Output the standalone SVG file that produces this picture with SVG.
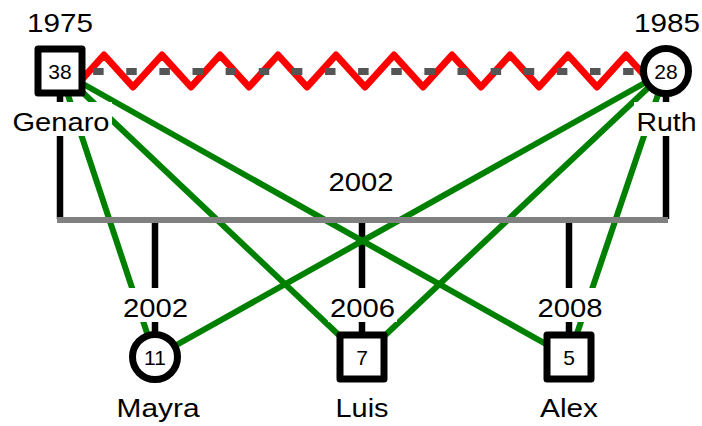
<svg xmlns="http://www.w3.org/2000/svg" width="702" height="426" viewBox="0 0 702 426">
<style>
.bg{fill:#fff}
.node{fill:#fff;stroke:#000;stroke-width:7;stroke-linejoin:round}
.lbl{font-family:"Liberation Sans",Arial,sans-serif;font-size:25px;fill:#000;text-anchor:middle}
.num{font-family:"Liberation Sans",Arial,sans-serif;font-size:21px;fill:#000;text-anchor:middle}
.blk{stroke:#000;stroke-width:6.5;fill:none}
.grn{stroke:#008000;stroke-width:6;fill:none}
</style>
<rect width="702" height="426" fill="#fff"/>
<g id="connectors">
  <g id="descent">
    <line class="blk" x1="60" y1="96" x2="60" y2="219"/>
    <line class="blk" x1="666" y1="96" x2="666" y2="219"/>
    <line class="blk" x1="155" y1="221" x2="155" y2="332"/>
    <line class="blk" x1="362" y1="221" x2="362" y2="332"/>
    <line class="blk" x1="569" y1="221" x2="569" y2="332"/>
  </g>
  <g id="green-links">
    <line class="grn" x1="60" y1="71" x2="155" y2="357"/>
    <line class="grn" x1="60" y1="71" x2="362" y2="357"/>
    <line class="grn" x1="60" y1="71" x2="569" y2="357"/>
    <line class="grn" x1="666" y1="71" x2="155" y2="357"/>
    <line class="grn" x1="666" y1="71" x2="362" y2="357"/>
    <line class="grn" x1="666" y1="71" x2="569" y2="357"/>
  </g>
  <line id="union-bar" x1="57" y1="220" x2="668" y2="220" stroke="#808080" stroke-width="6"/>
  <polyline id="conflict" fill="none" stroke="#ff0000" stroke-width="7" stroke-linejoin="round" points="60,71 75,87 104,55 133,87 162,55 191,87 220,55 249,87 278,55 307,87 336,55 365,87 394,55 423,87 452,55 481,87 510,55 539,87 568,55 597,87 626,55 655,87 666,71"/>
  <line id="separated" x1="60" y1="71.5" x2="666" y2="71.5" stroke="#555" stroke-width="7" stroke-dasharray="10.5 22.625"/>
</g>
<g id="labels">
  <rect class="bg" x="11" y="102" width="101" height="34"/>
  <rect class="bg" x="634" y="102" width="64" height="34"/>
  <rect class="bg" x="121" y="288" width="69" height="34"/>
  <rect class="bg" x="328" y="288" width="69" height="34"/>
  <rect class="bg" x="535" y="288" width="69" height="34"/>
  <text class="lbl" x="60" y="32" textLength="66" lengthAdjust="spacingAndGlyphs">1975</text>
  <text class="lbl" x="667" y="32" textLength="66" lengthAdjust="spacingAndGlyphs">1985</text>
  <text class="lbl" x="361" y="191" textLength="65" lengthAdjust="spacingAndGlyphs">2002</text>
  <text class="lbl" x="155.5" y="317" textLength="65" lengthAdjust="spacingAndGlyphs">2002</text>
  <text class="lbl" x="362.5" y="317" textLength="65" lengthAdjust="spacingAndGlyphs">2006</text>
  <text class="lbl" x="570" y="317" textLength="65" lengthAdjust="spacingAndGlyphs">2008</text>
</g>
<g id="genaro">
  <rect class="node" x="38" y="49" width="44" height="44"/>
  <text class="num" x="60" y="79">38</text>
  <text class="lbl" x="61" y="131" textLength="97" lengthAdjust="spacingAndGlyphs">Genaro</text>
</g>
<g id="ruth">
  <circle class="node" cx="666" cy="71" r="22.5"/>
  <text class="num" x="666" y="79">28</text>
  <text class="lbl" x="666.5" y="131" textLength="60" lengthAdjust="spacingAndGlyphs">Ruth</text>
</g>
<g id="mayra">
  <circle class="node" cx="155" cy="357" r="22.5"/>
  <text class="num" x="155" y="365">11</text>
  <text class="lbl" x="158" y="417" textLength="83" lengthAdjust="spacingAndGlyphs">Mayra</text>
</g>
<g id="luis">
  <rect class="node" x="340" y="335" width="44" height="44"/>
  <text class="num" x="362" y="365">7</text>
  <text class="lbl" x="362" y="417" textLength="53" lengthAdjust="spacingAndGlyphs">Luis</text>
</g>
<g id="alex">
  <rect class="node" x="547" y="335" width="44" height="44"/>
  <text class="num" x="569" y="365">5</text>
  <text class="lbl" x="569" y="417" textLength="58" lengthAdjust="spacingAndGlyphs">Alex</text>
</g>
</svg>
